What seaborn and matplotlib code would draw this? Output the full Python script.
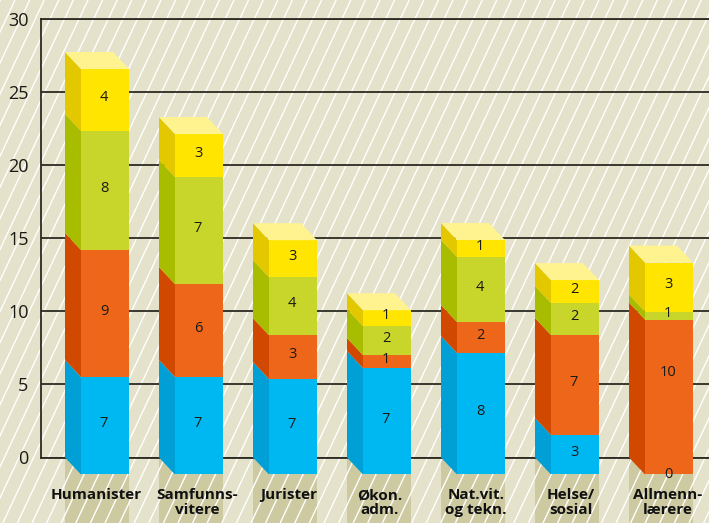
import numpy as np
import matplotlib.pyplot as plt
import seaborn as sns
from matplotlib.patches import Polygon, Rectangle

categories = ["Humanister", "Samfunns-\nvitere", "Jurister", "Økon.\nadm.",
              "Nat.vit.\nog tekn.", "Helse/\nsosial", "Allmenn-\nlærere"]

# stack heights
blue = [6.67, 6.67, 6.53, 7.28, 8.31, 2.70, 0.00]
orange = [8.69, 6.36, 3.00, 0.89, 2.12, 6.84, 10.60]
green = [8.14, 7.32, 3.97, 1.98, 4.45, 2.19, 0.55]
yellow = [4.24, 2.94, 2.53, 1.09, 1.16, 1.57, 3.35]

# the printed numbers are rounded and differ from the heights
blue_labels = [7, 7, 7, 7, 8, 3, 0]
orange_labels = [9, 6, 3, 1, 2, 7, 10]
green_labels = [8, 7, 4, 2, 4, 2, 1]
yellow_labels = [4, 3, 3, 1, 1, 2, 3]

yticks = [0, 5, 10, 15, 20, 25, 30]

BG = "#E4E2CA"
SHADOW = "#CDC9A0"
GRID = "#2B2B22"
TEXT = "#1A1A14"
TOP = "#FFF38F"
# name, front, side
series = [
    (blue, blue_labels, "#00B8F1", "#009FD6"),
    (orange, orange_labels, "#EE661A", "#D14900"),
    (green, green_labels, "#C8D62B", "#A9BD00"),
    (yellow, yellow_labels, "#FFE500", "#E3C800"),
]

W, H = 709, 523
X0, STEP = 105, 94      # first bar centre, bar spacing (px)
Y0, YUNIT = 457.5, 14.62  # y=0 pixel, px per unit
DX, DY = 16 / STEP, 17 / YUNIT  # 3d depth in data units
HALF = 24 / STEP

sns.set_theme(style="white")
plt.rcParams["font.family"] = ["Open Sans", "DejaVu Sans"]

fig = plt.figure(figsize=(W / 100, H / 100), dpi=100, facecolor=BG)

# background: ground shadows and diagonal stripes, in pixels
bg = fig.add_axes([0, 0, 1, 1], zorder=0)
bg.set_xlim(0, W)
bg.set_ylim(H, 0)
bg.axis("off")
for i in range(len(categories)):
    left = X0 + STEP * i - 40
    bg.add_patch(Polygon([(left, Y0), (left + 64, Y0), (left + 64, H), (left, H)],
                         facecolor=SHADOW, edgecolor="none"))
for x in np.arange(-260, W + 20, 14.6):
    bg.plot([x, x + 0.47 * H], [H, 0], color="white", lw=1.0, solid_capstyle="butt")

ax = fig.add_axes([41 / W, (H - Y0) / H, (W - 41) / W, (Y0 - 19) / H], zorder=1)
ax.patch.set_alpha(0)

bottom = np.zeros(len(categories))
for vals, labs, front, side in series:
    vals = np.array(vals)
    sns.barplot(x=list(range(len(categories))), y=vals, bottom=bottom - DY, color=front,
                saturation=1, width=2 * HALF, linewidth=0, ax=ax, native_scale=True, zorder=3)
    for i in range(len(categories)):
        b, t = bottom[i], bottom[i] + vals[i]
        ax.add_patch(Polygon([(i - HALF, b - DY), (i - HALF, t - DY),
                              (i - HALF - DX, t), (i - HALF - DX, b)],
                             facecolor=side, edgecolor="none", zorder=3, clip_on=False))
    bottom = bottom + vals

for p in ax.patches:
    p.set_clip_on(False)

# top faces
for i, t in enumerate(bottom):
    ax.add_patch(Polygon([(i - HALF, t - DY), (i + HALF, t - DY),
                          (i + HALF - DX, t), (i - HALF - DX, t)],
                         facecolor=TOP, edgecolor="none", zorder=3, clip_on=False))

# value labels
cum = np.zeros(len(categories))
for vals, labs, front, side in series:
    for i, (v, lab) in enumerate(zip(vals, labs)):
        y = cum[i] + v / 2 - DY + 0.15
        if lab == 10:
            y += 1.5
        if lab == 0:
            y -= 0.15
        ax.text(i - 0.01, y, str(lab), ha="center", va="center", fontsize=10.5,
                color=TEXT, zorder=5, clip_on=False)
    cum = cum + np.array(vals)

ax.set_xlim((41 - X0) / STEP, (W - X0) / STEP)
ax.set_ylim(0, 30)
ax.set_xlabel("")
ax.set_ylabel("")

ax.set_axisbelow(True)
ax.yaxis.grid(True, color=GRID, lw=1.3)
ax.xaxis.grid(False)
for name in ["top", "left", "bottom"]:
    ax.spines[name].set_visible(True)
    ax.spines[name].set_color(GRID)
    ax.spines[name].set_linewidth(1.3)
ax.spines["right"].set_visible(False)

ax.set_yticks(yticks)
ax.tick_params(axis="y", length=0, pad=9, labelsize=13, labelcolor=TEXT)

label_px = [96, 197, 289, 380, 476, 571, 668]
ax.set_xticks([(p - X0) / STEP for p in label_px])
ax.set_xticklabels(categories, fontsize=11, fontweight="bold", color="#111111", linespacing=1.05)
ax.tick_params(axis="x", length=0, pad=22)

fig.savefig("out.png", dpi=100, facecolor=BG)
